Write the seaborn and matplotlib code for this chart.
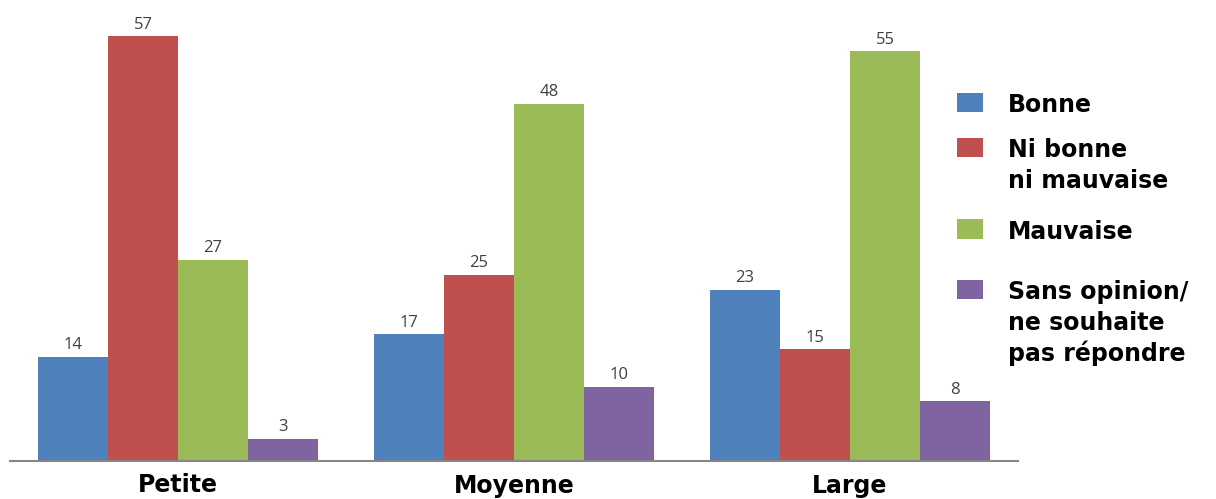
# grouped bar chart: opinion by company size

import pandas as pd
import matplotlib.pyplot as plt
import matplotlib.patches as mpatches
import seaborn as sns

categories = ['Petite', 'Moyenne', 'Large']
series = ['Bonne', 'Ni bonne\nni mauvaise', 'Mauvaise', 'Sans opinion/\nne souhaite\npas répondre']
bonne = [14, 17, 23]
ni_bonne = [57, 25, 15]
mauvaise = [27, 48, 55]
sans_opinion = [3, 10, 8]
colors = ['#4F81BD', '#C0504D', '#9BBB59', '#8064A2']

values = [bonne, ni_bonne, mauvaise, sans_opinion]
rows = []
for s, vals in zip(series, values):
    for c, v in zip(categories, vals):
        rows.append({'Taille': c, 'Serie': s, 'Valeur': v})
df = pd.DataFrame(rows)

sns.set_theme(style='white')
plt.rcParams['font.family'] = ['DejaVu Sans']

W, H = 1216, 499
fig = plt.figure(figsize=(W / 100, H / 100), dpi=100)
ax = fig.add_axes([10 / W, 38 / H, 1008 / W, 461 / H])

sns.barplot(data=df, x='Taille', y='Valeur', hue='Serie', order=categories,
            hue_order=series, palette=colors, width=0.833, gap=0,
            saturation=1, linewidth=0, ax=ax, legend=False)

for cont in ax.containers:
    ax.bar_label(cont, padding=2.5, fontsize=12, color='#404040', family='Open Sans')

ax.set_xlim(-0.5, 2.5)
ax.set_ylim(0, 61.9)
ax.set_yticks([])
ax.set_xlabel('')
ax.set_ylabel('')
ax.tick_params(axis='x', length=0, pad=9)
for lab in ax.get_xticklabels():
    lab.set_fontsize(17)
    lab.set_fontweight('bold')
    lab.set_color('black')

sns.despine(ax=ax, left=True, top=True, right=True)
ax.spines['bottom'].set_color('#868686')
ax.spines['bottom'].set_linewidth(1.5)

# legend drawn by hand so the square sits on the first line of each label
first_baselines = [112, 157, 239, 299]
line_step = 31
for s, c, base in zip(series, colors, first_baselines):
    fig.add_artist(mpatches.Rectangle((957 / W, 1 - base / H), 26 / W, 19.5 / H,
                                      transform=fig.transFigure, color=c, lw=0))
    for i, line in enumerate(s.split('\n')):
        fig.text(1008 / W, 1 - (base + i * line_step) / H, line, fontsize=17,
                 fontweight='bold', color='black', va='baseline', ha='left')

fig.savefig('out.png', dpi=100)
